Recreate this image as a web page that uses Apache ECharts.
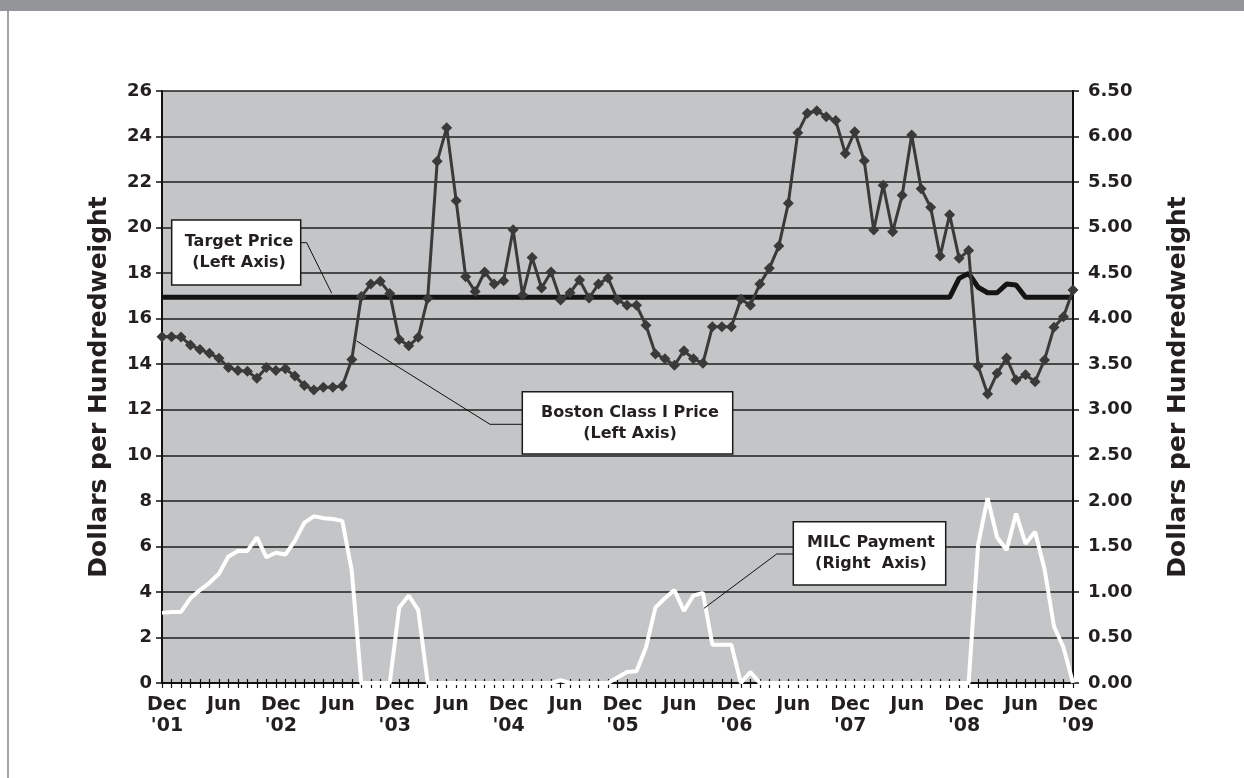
<!DOCTYPE html>
<html>
<head>
<meta charset="utf-8">
<script src="https://cdn.jsdelivr.net/npm/echarts@6/dist/echarts.min.js"></script>
<style>
html,body{margin:0;padding:0;background:#fff;}
#chart{width:1244px;height:778px;}
</style>
</head>
<body>
<div id="chart"></div>
<script>
// Months Dec 2001 .. Dec 2009
const monthNames = ['Jan','Feb','Mar','Apr','May','Jun','Jul','Aug','Sep','Oct','Nov','Dec'];
const months = [];
for (let y = 2001; y <= 2009; y++) {
  for (let m = 0; m < 12; m++) {
    if (y === 2001 && m < 11) continue;
    if (y === 2009 && m > 11) continue;
    months.push(monthNames[m] + " '" + String(y).slice(2));
  }
}

// Boston Class I Price ($/cwt, left axis)
const bostonPrice = [
  15.21,15.21,15.20,14.84,14.65,14.48,14.26,13.86,13.72,13.69,
  13.38,13.86,13.72,13.80,13.48,13.07,12.87,12.99,12.99,13.04,
  14.21,16.97,17.52,17.64,17.11,15.09,14.81,15.18,16.89,22.91,
  24.39,21.18,17.84,17.19,18.05,17.52,17.67,19.91,17.04,18.69,
  17.35,18.05,16.82,17.14,17.70,16.91,17.52,17.79,16.82,16.59,
  16.59,15.71,14.45,14.24,13.95,14.59,14.24,14.04,15.65,15.65,
  15.65,16.85,16.59,17.52,18.21,19.19,21.07,24.17,25.02,25.13,
  24.87,24.70,23.26,24.21,22.94,19.89,21.86,19.82,21.42,24.07,
  21.71,20.89,18.75,20.57,18.65,18.99,13.92,12.69,13.60,14.27,
  13.31,13.54,13.23,14.19,15.62,16.09,17.26
];

// Target Price ($/cwt, left axis)
const targetPrice = [
  16.94,16.94,16.94,16.94,16.94,16.94,16.94,16.94,16.94,16.94,
  16.94,16.94,16.94,16.94,16.94,16.94,16.94,16.94,16.94,16.94,
  16.94,16.94,16.94,16.94,16.94,16.94,16.94,16.94,16.94,16.94,
  16.94,16.94,16.94,16.94,16.94,16.94,16.94,16.94,16.94,16.94,
  16.94,16.94,16.94,16.94,16.94,16.94,16.94,16.94,16.94,16.94,
  16.94,16.94,16.94,16.94,16.94,16.94,16.94,16.94,16.94,16.94,
  16.94,16.94,16.94,16.94,16.94,16.94,16.94,16.94,16.94,16.94,
  16.94,16.94,16.94,16.94,16.94,16.94,16.94,16.94,16.94,16.94,
  16.94,16.94,16.94,16.94,17.77,17.99,17.38,17.14,17.14,17.52,
  17.48,16.94,16.94,16.94,16.94,16.94,16.94
];

// MILC Payment ($/cwt, right axis)
const milcPayment = [
  0.77,0.78,0.78,0.93,1.02,1.10,1.20,1.39,1.45,1.45,
  1.60,1.38,1.43,1.41,1.56,1.76,1.83,1.81,1.80,1.78,
  1.23,0,0,0,0,0.83,0.96,0.80,0,0,
  0,0,0,0,0,0,0,0,0,0,
  0,0,0.03,0,0,0,0,0,0.06,0.12,
  0.13,0.39,0.83,0.93,1.02,0.79,0.96,0.99,0.42,0.42,
  0.42,0,0.12,0,0,0,0,0,0,0,
  0,0,0,0,0,0,0,0,0,0,
  0,0,0,0,0,0,1.52,2.03,1.60,1.46,
  1.86,1.53,1.66,1.25,0.62,0.39,0
];

const leftTicks = {min: 0, max: 26, interval: 2};
const rightTicks = {min: 0, max: 6.5, interval: 0.5};
const axisTitle = 'Dollars per Hundredweight';

const FONT = 'DejaVu Sans';
const chart = echarts.init(document.getElementById('chart'), null, {renderer: 'canvas'});

const gridL = 162, gridR = 171, gridT = 91, gridB = 95;

function box(x, y, w, h, lines, tx, ty) {
  return [
    {type: 'rect', shape: {x: x, y: y, width: w, height: h},
     style: {fill: '#fff', stroke: '#1a1a1a', lineWidth: 1.5}, z: 100},
    {type: 'text', x: tx, y: ty, z: 101,
     style: {text: lines.join('\n'), font: 'bold 16px "' + FONT + '"', fill: '#231f20',
             align: 'center', verticalAlign: 'middle', lineHeight: 21}}
  ];
}
function leader(points) {
  return {type: 'polyline', shape: {points: points}, z: 99,
          style: {stroke: '#111', lineWidth: 1, fill: null}};
}

const option = {
  backgroundColor: '#ffffff',
  animation: false,
  grid: {left: gridL, right: gridR, top: gridT, bottom: gridB, show: true,
         backgroundColor: '#c4c5c7', borderWidth: 0},
  xAxis: [
    {type: 'category', data: months, boundaryGap: false, position: 'bottom',
     axisLine: {show: true, onZero: false, lineStyle: {color: '#111', width: 2}},
     axisTick: {show: true, interval: 0, inside: false, length: 5, lineStyle: {color: '#111', width: 1.2}},
     axisLabel: {interval: 5, margin: 12, color: '#231f20', fontFamily: FONT, fontWeight: 'bold',
                 fontSize: 19, lineHeight: 21, padding: [0, 0, 0, 10],
                 formatter: function (v, idx) {
                   const p = v.split(' ');
                   return p[0] === 'Dec' ? 'Dec\n' + p[1] : p[0];
                 }},
     splitLine: {show: false}},
    {type: 'category', data: months, boundaryGap: false, position: 'bottom',
     axisLine: {show: false},
     axisTick: {show: true, interval: 0, inside: true, length: 4, lineStyle: {color: '#111', width: 1.2}},
     axisLabel: {show: false}, splitLine: {show: false}}
  ],
  yAxis: [
    {type: 'value', min: leftTicks.min, max: leftTicks.max, interval: leftTicks.interval, position: 'left',
     name: axisTitle, nameLocation: 'middle', nameRotate: 90, nameGap: 50,
     nameTextStyle: {fontFamily: FONT, fontWeight: 'bold', fontSize: 25, color: '#231f20'},
     axisLine: {show: true, lineStyle: {color: '#111', width: 2}},
     axisTick: {show: true, length: 6, lineStyle: {color: '#111', width: 1.5}},
     axisLabel: {margin: 10, color: '#231f20', fontFamily: FONT, fontWeight: 'bold', fontSize: 18},
     splitLine: {show: true, lineStyle: {color: '#1e1e1e', width: 1.5}}},
    {type: 'value', min: rightTicks.min, max: rightTicks.max, interval: rightTicks.interval, position: 'right',
     name: axisTitle, nameLocation: 'middle', nameRotate: 90, nameGap: 93,
     nameTextStyle: {fontFamily: FONT, fontWeight: 'bold', fontSize: 25, color: '#231f20'},
     axisLine: {show: true, lineStyle: {color: '#111', width: 2}},
     axisTick: {show: true, length: 6, lineStyle: {color: '#111', width: 1.5}},
     axisLabel: {margin: 15, color: '#231f20', fontFamily: FONT, fontWeight: 'bold', fontSize: 18,
                 formatter: function (v) { return v.toFixed(2); }},
     splitLine: {show: false}}
  ],
  series: [
    {name: 'Target Price', type: 'line', data: targetPrice, yAxisIndex: 0, xAxisIndex: 0,
     showSymbol: false, symbol: 'none', z: 3,
     lineStyle: {color: '#141414', width: 5}},
    {name: 'MILC Payment', type: 'line', data: milcPayment, yAxisIndex: 1, xAxisIndex: 0,
     showSymbol: false, symbol: 'none', z: 4,
     lineStyle: {color: '#ffffff', width: 4}},
    {name: 'Boston Class I Price', type: 'line', data: bostonPrice, yAxisIndex: 0, xAxisIndex: 0,
     symbol: 'diamond', symbolSize: 11, showAllSymbol: true, z: 5,
     itemStyle: {color: '#3a3a3a', borderWidth: 0},
     lineStyle: {color: '#3a3a3a', width: 3}}
  ],
  graphic: [
    {type: 'rect', shape: {x: 0, y: 0, width: 1244, height: 11}, style: {fill: '#939598'}, z: 200},
    {type: 'rect', shape: {x: 7, y: 11, width: 2, height: 767}, style: {fill: '#a3a3a3'}, z: 200},
    leader([[300.7, 242.7], [306.7, 242.7], [331.7, 293.3]]),
    ...box(171.7, 220, 129, 65, ['Target Price', '(Left Axis)'], 239, 252.5),
    leader([[356.7, 341], [490, 424.3], [522, 424.3]]),
    ...box(522.3, 391.7, 210.4, 62.3, ['Boston Class I Price', '(Left Axis)'], 630, 423),
    leader([[704, 608.3], [776.7, 554], [793, 554]]),
    ...box(793.3, 521.7, 152.4, 63.3, ['MILC Payment', '(Right  Axis)'], 871, 553.5)
  ]
};
chart.setOption(option);
</script>
</body>
</html>
